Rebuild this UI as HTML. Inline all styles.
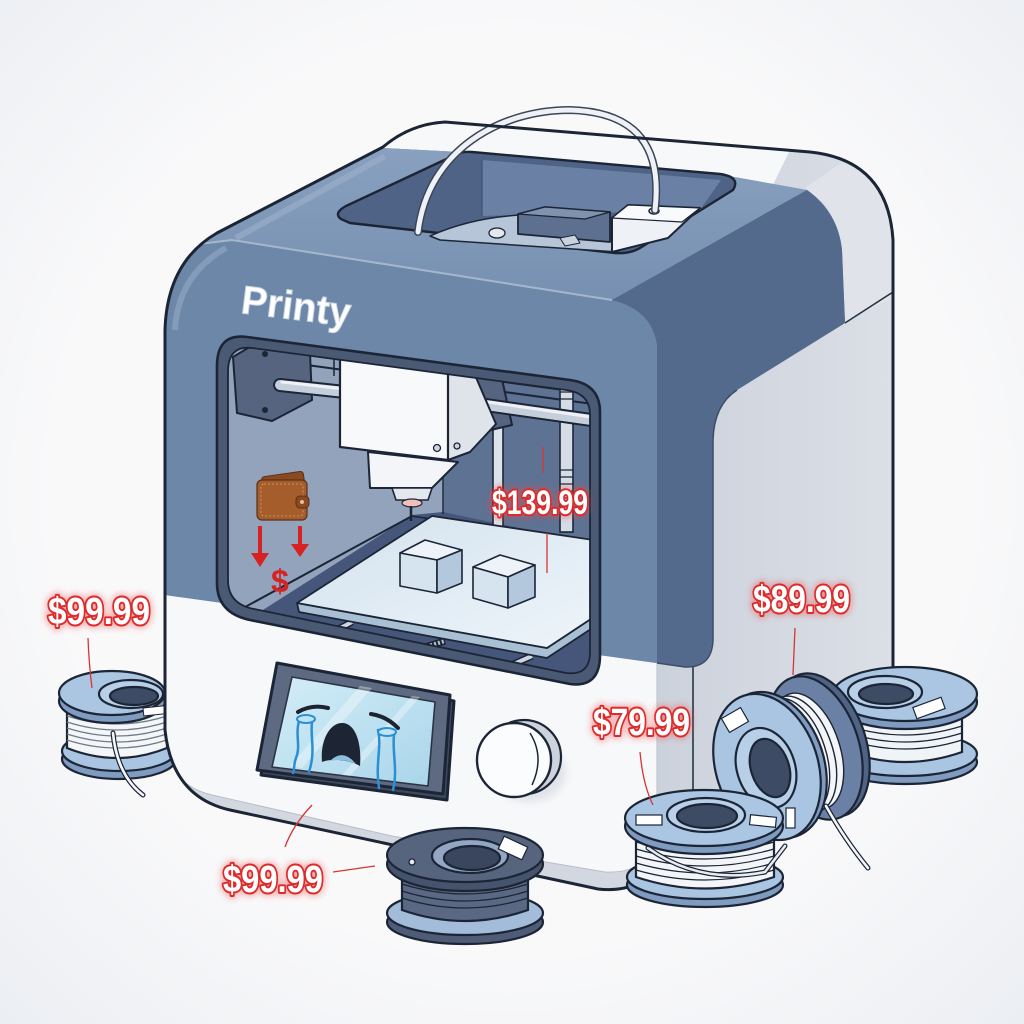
<!DOCTYPE html>
<html><head><meta charset="utf-8">
<style>html,body{margin:0;padding:0;background:#f7f8f9;}svg{display:block}</style></head>
<body>
<svg width="1024" height="1024" viewBox="0 0 1024 1024" xmlns="http://www.w3.org/2000/svg">
<defs>
 <radialGradient id="bg" cx="50%" cy="48%" r="75%"><stop offset="0.6" stop-color="#f9f9fa"/><stop offset="1" stop-color="#eaedf2"/></radialGradient>
 <linearGradient id="sideG" x1="0" y1="0" x2="1" y2="0"><stop offset="0" stop-color="#ccd2dc"/><stop offset="1" stop-color="#dce0e7"/></linearGradient>
 <linearGradient id="bedG" x1="0" y1="0" x2="1" y2="1"><stop offset="0" stop-color="#d3e2ee"/><stop offset="1" stop-color="#eef5fa"/></linearGradient>
 <linearGradient id="scrG" x1="0" y1="0" x2="1" y2="1"><stop offset="0" stop-color="#d3edf7"/><stop offset="1" stop-color="#a9d5ea"/></linearGradient>
 <linearGradient id="topG" x1="0" y1="0" x2="0" y2="1"><stop offset="0" stop-color="#8aa1c0"/><stop offset="1" stop-color="#7790b1"/></linearGradient>
 <filter id="glow" x="-30%" y="-60%" width="160%" height="220%"><feGaussianBlur stdDeviation="3.5"/></filter>
 <filter id="soft" x="-30%" y="-30%" width="160%" height="160%"><feGaussianBlur stdDeviation="4"/></filter>
 <clipPath id="sil"><path d="M165,330 Q167,262 217,233 L383,147 Q410,124 445,122 L810,152 Q888,160 893,240 L893,745 Q892,765 870,775 L645,880 Q625,892 598,889 L230,810 Q172,797 165,730 Z"/></clipPath>
 <clipPath id="win"><path d="M252,348 L566,390 Q590,393 590,415 L590,652 Q590,676 566,673 L254,609 Q228,604 228,580 L228,372 Q228,345 252,348 Z"/></clipPath>
</defs>

<rect width="1024" height="1024" fill="url(#bg)"/>

<!-- Spool A (left, behind body) -->
<g stroke="#1c2536" stroke-width="2.2">
 <ellipse cx="119" cy="759" rx="57" ry="20" fill="#7f9cc0"/>
 <ellipse cx="119" cy="751" rx="57" ry="20" fill="#a9c5e2"/>
 <path d="M67,706 L67,748 Q117,768 167,748 L167,706 Z" fill="#f4f6f8"/>
 <g fill="none" stroke="#6f7b8b" stroke-width="1.3">
  <path d="M67,716 Q117,732 167,716"/><path d="M67,722 Q117,738 167,722"/><path d="M67,728 Q117,744 167,728"/><path d="M67,734 Q117,750 167,734"/><path d="M67,740 Q117,756 167,740"/>
 </g>
 <ellipse cx="112" cy="701" rx="53" ry="22" fill="#7f9cc0"/>
 <ellipse cx="112" cy="693" rx="53" ry="22" fill="#aac6e3"/>
 <ellipse cx="131" cy="694" rx="32" ry="14" fill="#b8cfe8"/>
 <ellipse cx="134" cy="696" rx="24" ry="9" fill="#3e4b64"/>
 <rect x="143" y="708" width="22" height="8" fill="#fff" stroke-width="1" transform="rotate(-6 143 708)"/>
 <path d="M113,733 Q117,775 143,795" fill="none" stroke="#1c2536" stroke-width="5" stroke-linecap="round"/>
 <path d="M113,733 Q117,775 143,795" fill="none" stroke="#f4f6f8" stroke-width="2.6" stroke-linecap="round"/>
</g>

<!-- BODY -->
<g clip-path="url(#sil)">
 <rect x="100" y="100" width="850" height="850" fill="#f7f8fa"/>
 <polygon points="795,140 910,140 910,910 657,910 657,420" fill="url(#sideG)"/>
 <polygon points="805,188 860,150 910,150 910,288 845,322 842,250 826,205" fill="#e0e4ea"/>
 <line x1="893" y1="292" x2="845" y2="323" stroke="#2a3345" stroke-width="1.6"/>
 <line x1="693" y1="660" x2="693" y2="900" stroke="#2a3345" stroke-width="1.6"/>
 <path d="M160,735 Q168,785 212,795 L392,836 L605,872 Q645,874 657,842 L657,910 L150,910 Z" fill="#d2d7e0"/>
 <path d="M160,735 Q168,785 212,795 L392,836 L605,872 Q645,874 657,842" fill="none" stroke="#b8bfca" stroke-width="1"/>
 <line x1="657" y1="660" x2="657" y2="845" stroke="#c2c8d2" stroke-width="1.2"/>
 <path d="M150,593 L150,140 L383,140 L383,148 L460,152 L723,175 L807,190 Q838,212 842,250 L845,323 L737,390 Q714,405 713,440 L713,640 Q712,668 685,667 Z" fill="#6d87a9"/>
 <polygon points="150,140 383,140 383,148 460,152 723,175 807,190 612,300 232,240 150,245" fill="url(#topG)"/>
 <path d="M150,250 L232,240 L612,300" fill="none" stroke="#a5b7cd" stroke-width="2"/>
 <path d="M612,300 L807,190 Q838,212 842,250 L845,323 L737,390 Q714,405 713,440 L713,640 Q712,668 685,667 L657,663 L657,345 Q652,310 612,300 Z" fill="#546a8c"/>
 <path d="M713,440 L713,640 Q712,668 685,667 L657,663" fill="none" stroke="#3d4d68" stroke-width="1.5"/>
 <path d="M737,390 Q714,405 713,440" fill="none" stroke="#3d4d68" stroke-width="1.5"/>
 <path d="M175,330 Q178,275 226,248" fill="none" stroke="#8ea4c1" stroke-width="6" opacity="0.7"/>
 <path d="M236,238 L385,156" fill="none" stroke="#9cb0ca" stroke-width="6" opacity="0.6"/>
</g>

<!-- top opening -->
<g stroke="#1c2536" stroke-width="2.4" stroke-linejoin="round">
 <path d="M341,219 Q333,213 346,206 L455,155 Q462,151 472,152 L720,174 Q741,177 733,190 L640,248 Q630,254 615,253 L350,223 Z" fill="#4f6387"/>
 <polygon points="482,160 721,180 700,210 482,216" fill="#6a81a5" stroke="none"/>
 <line x1="482" y1="160" x2="482" y2="216" stroke="#3f5273" stroke-width="1.2"/>
 <path d="M430,236 Q470,218 520,215 L600,220 L618,252 L440,240 Z" fill="#b7c5d8" stroke-width="1.5"/>
 <polygon points="518,214 545,207 610,212 610,242 518,234" fill="#5d7090" stroke-width="1.8"/>
 <polygon points="518,214 545,207 610,212 585,219" fill="#7f92ae" stroke-width="1.2"/>
 <polygon points="560,238 575,235 580,243 565,246" fill="#c9d3e0" stroke-width="1"/>
 <polygon points="612,218 628,205 700,208 668,238 612,252" fill="#eef1f5" stroke-width="2"/>
 <polygon points="612,218 628,205 700,208 682,222" fill="#f9fafc" stroke-width="1.2"/>
 <ellipse cx="497" cy="233" rx="8" ry="5" fill="#e4e9ef" stroke-width="1.3"/>
 <ellipse cx="654" cy="211" rx="5" ry="3" fill="#cfd6e0" stroke-width="1.5"/>
</g>
<path d="M418,232 C428,150 500,110 570,110 C640,112 662,150 655,210" fill="none" stroke="#3c4658" stroke-width="8" stroke-linecap="round"/>
<path d="M418,232 C428,150 500,110 570,110 C640,112 662,150 655,210" fill="none" stroke="#eef1f5" stroke-width="5" stroke-linecap="round"/>

<!-- Printy -->
<text x="240" y="313" font-family="Liberation Sans, DejaVu Sans, sans-serif" font-weight="bold" font-size="40" fill="#ffffff" stroke="#c9d3e0" stroke-width="1" textLength="110" lengthAdjust="spacingAndGlyphs" transform="rotate(7 240 313)">Printy</text>

<!-- window -->
<path d="M247,337 L570,380 Q600,384 600,412 L600,655 Q600,688 570,684 L250,620 Q217,613 217,583 L217,366 Q217,333 247,337 Z" fill="#4a5974" stroke="#1c2536" stroke-width="2.6"/>
<g clip-path="url(#win)">
 <rect x="220" y="340" width="380" height="350" fill="#93a3bb"/>
 <polygon points="443,355 600,378 600,548 443,515" fill="#5e7293"/>
 <polygon points="200,650 412,515 443,512 600,545 600,700 200,700" fill="#46567a"/>
 <line x1="236" y1="612" x2="412" y2="516" stroke="#1c2536" stroke-width="2"/>
 <line x1="412" y1="516" x2="600" y2="545" stroke="#1c2536" stroke-width="1.6"/>
 <line x1="443" y1="460" x2="443" y2="514" stroke="#1c2536" stroke-width="1.4"/>
 <line x1="285" y1="352" x2="600" y2="395" stroke="#1c2536" stroke-width="2"/>
 <line x1="285" y1="362" x2="600" y2="405" stroke="#1c2536" stroke-width="2"/>
 <line x1="310" y1="350" x2="310" y2="372" stroke="#1c2536" stroke-width="1.5"/>
 <line x1="334" y1="352" x2="334" y2="376" stroke="#1c2536" stroke-width="1.5"/>
 <rect x="493" y="362" width="10" height="165" fill="#dde3eb" stroke="#1c2536" stroke-width="1.6"/>
 <rect x="560" y="372" width="13" height="160" fill="#d5dce6" stroke="#1c2536" stroke-width="1.6"/>
 <g stroke="#1c2536" stroke-width="1.2"><line x1="560" y1="385" x2="573" y2="385"/><line x1="560" y1="392" x2="573" y2="392"/><line x1="560" y1="399" x2="573" y2="399"/><line x1="560" y1="470" x2="573" y2="470"/><line x1="560" y1="477" x2="573" y2="477"/><line x1="560" y1="484" x2="573" y2="484"/><line x1="560" y1="491" x2="573" y2="491"/><line x1="560" y1="498" x2="573" y2="498"/></g>
 <polygon points="233,357 253,345 310,353 312,400 272,421 237,413" fill="#56647f" stroke="#1c2536" stroke-width="2" stroke-linejoin="round"/>
 <circle cx="265" cy="354" r="3" fill="#1c2536"/><circle cx="265" cy="410" r="3" fill="#1c2536"/>
 <line x1="280" y1="385" x2="345" y2="392" stroke="#1c2536" stroke-width="14" stroke-linecap="round"/>
 <line x1="280" y1="385" x2="345" y2="392" stroke="#c5cfdc" stroke-width="10" stroke-linecap="round"/>
 <line x1="282" y1="382" x2="345" y2="389" stroke="#eef2f6" stroke-width="3" stroke-linecap="round"/>
 <polygon points="468,374 478,367 500,370 512,425 478,433 468,420" fill="#56647f" stroke="#1c2536" stroke-width="2" stroke-linejoin="round"/>
 <line x1="486" y1="405" x2="605" y2="422" stroke="#1c2536" stroke-width="14" stroke-linecap="round"/>
 <line x1="486" y1="405" x2="605" y2="422" stroke="#c5cfdc" stroke-width="10" stroke-linecap="round"/>
 <line x1="488" y1="402" x2="605" y2="419" stroke="#eef2f6" stroke-width="3" stroke-linecap="round"/>
 <polygon points="448,364 472,368 496,424 470,452 448,460" fill="#dfe4eb" stroke="#1c2536" stroke-width="2" stroke-linejoin="round"/>
 <polygon points="340,352 448,364 448,460 340,447" fill="#f8f9fb" stroke="#1c2536" stroke-width="2.2" stroke-linejoin="round"/>
 <circle cx="437" cy="448" r="3.5" fill="#cfd5de" stroke="#1c2536" stroke-width="1.3"/>
 <circle cx="457" cy="446" r="3" fill="#cfd5de" stroke="#1c2536" stroke-width="1.3"/>
 <polygon points="368,452 458,462 432,488 370,488" fill="#f3f5f8" stroke="#1c2536" stroke-width="2" stroke-linejoin="round"/>
 <polygon points="392,488 432,488 428,500 396,500" fill="#e4e8ee" stroke="#1c2536" stroke-width="1.6"/>
 <ellipse cx="412" cy="503" rx="10" ry="4" fill="#f2c0bb" stroke="#1c2536" stroke-width="1.2"/>
 <line x1="411" y1="506" x2="411" y2="521" stroke="#1c2536" stroke-width="2.5"/>
 <line x1="325" y1="636" x2="352" y2="622" stroke="#1c2536" stroke-width="7"/>
 <line x1="325" y1="636" x2="352" y2="622" stroke="#cfd7e2" stroke-width="4"/>
 <line x1="500" y1="670" x2="532" y2="656" stroke="#1c2536" stroke-width="7"/>
 <line x1="500" y1="670" x2="532" y2="656" stroke="#cfd7e2" stroke-width="4"/>
 <line x1="415" y1="650" x2="445" y2="641" stroke="#1c2536" stroke-width="7"/>
 <line x1="415" y1="650" x2="445" y2="641" stroke="#b9c3d0" stroke-width="4" stroke-dasharray="2 2"/>
 <polygon points="297,603 547,648 600,613 600,623 547,658 299,612" fill="#a9bfd4" stroke="#1c2536" stroke-width="1.8" stroke-linejoin="round"/>
 <polygon points="297,603 432,516 600,541 600,613 547,648" fill="url(#bedG)" stroke="#1c2536" stroke-width="1.8" stroke-linejoin="round"/>
 <g stroke="#1c2536" stroke-width="1.6" stroke-linejoin="round">
  <polygon points="400,553 425,540 462,550 437,560" fill="#edf3f9"/>
  <polygon points="400,553 437,560 437,593 400,586" fill="#d6e4f0"/>
  <polygon points="437,560 462,550 462,583 437,593" fill="#b3c8dd"/>
  <polygon points="473,567 500,555 535,565 508,577" fill="#edf3f9"/>
  <polygon points="473,567 508,577 508,608 473,598" fill="#d6e4f0"/>
  <polygon points="508,577 535,565 535,597 508,608" fill="#b3c8dd"/>
 </g>
 <rect x="262" y="474" width="42" height="12" rx="3" fill="#8a4a22" stroke="#5b3015" stroke-width="1" transform="rotate(-8 283 480)"/>
 <rect x="257" y="480" width="50" height="40" rx="5" fill="#a65d2c" stroke="#5b3015" stroke-width="1.2"/>
 <rect x="261" y="484" width="42" height="32" rx="3" fill="none" stroke="#d9a070" stroke-width="0.8" stroke-dasharray="2 2"/>
 <rect x="296" y="496" width="13" height="12" rx="4" fill="#8a4a22" stroke="#5b3015" stroke-width="1"/>
 <circle cx="302" cy="502" r="2" fill="#e8c090"/>
 <line x1="260" y1="526" x2="260" y2="556" stroke="#d62222" stroke-width="4"/>
 <polygon points="251,553 269,553 260,567" fill="#d62222"/>
 <line x1="300" y1="526" x2="300" y2="546" stroke="#d62222" stroke-width="4"/>
 <polygon points="291,544 309,544 300,557" fill="#d62222"/>
 <text x="271" y="592" font-family="Liberation Sans, sans-serif" font-weight="bold" font-size="32" fill="#d62222">$</text>
</g>
<path d="M252,348 L566,390 Q590,393 590,415 L590,652 Q590,676 566,673 L254,609 Q228,604 228,580 L228,372 Q228,345 252,348 Z" fill="none" stroke="#1c2536" stroke-width="1.8"/>

<!-- screen -->
<polygon points="281,668 454,701 447,800 261,775" fill="#3f4a5e" stroke="#1c2536" stroke-width="3" stroke-linejoin="round"/>
<polygon points="277,663 450,695 443,794 257,770" fill="#5d6a82" stroke="#1c2536" stroke-width="3" stroke-linejoin="round"/>
<polygon points="292,677 435,702 428,786 272,767" fill="url(#scrG)" stroke="#2b3445" stroke-width="1.6" stroke-linejoin="round"/>
<polygon points="360,686 372,688 302,768 290,766" fill="#ffffff" opacity="0.35"/>
<polygon points="412,696 420,697 350,776 342,775" fill="#ffffff" opacity="0.35"/>
<g fill="none" stroke-linecap="round">
 <path d="M298,712 Q312,704 328,708" stroke="#1c2331" stroke-width="4"/>
 <path d="M371,714 Q386,716 398,728" stroke="#1c2331" stroke-width="4"/>
 <path d="M299,721 C295,735 301,746 296,758 C293,766 295,770 293,773" stroke="#2a8fd4" stroke-width="2.5"/>
 <path d="M312,722 C310,738 316,750 309,772" stroke="#2a8fd4" stroke-width="2.5"/>
 <path d="M378,730 C382,746 375,765 379,788" stroke="#2a8fd4" stroke-width="2.5"/>
 <path d="M394,735 C392,752 398,770 393,790" stroke="#2a8fd4" stroke-width="2.5"/>
</g>
<ellipse cx="306" cy="719" rx="9" ry="4" fill="#bfe4f4" stroke="#2a8fd4" stroke-width="2"/>
<ellipse cx="387" cy="732" rx="9" ry="4" fill="#bfe4f4" stroke="#2a8fd4" stroke-width="2"/>
<path d="M322,762 C320,740 330,723 342,723 C355,723 362,742 360,766 C350,760 332,758 322,762 Z" fill="#1d2433"/>
<path d="M330,761 Q343,748 356,764 Q343,758 330,761 Z" fill="#8cc0df"/>

<!-- knob -->
<ellipse cx="530" cy="772" rx="36" ry="30" fill="#d6dae1" opacity="0.7" filter="url(#soft)"/>
<circle cx="524" cy="757" r="37" fill="#cdd3dc" stroke="#1c2536" stroke-width="2.2"/>
<circle cx="514" cy="760" r="37" fill="#fbfcfd" stroke="#1c2536" stroke-width="2.4"/>
<path d="M530,733 Q545,757 532,785" fill="none" stroke="#1c2536" stroke-width="1.5"/>

<!-- silhouette outline -->
<path d="M165,330 Q167,262 217,233 L383,147 Q410,124 445,122 L810,152 Q888,160 893,240 L893,745 Q892,765 870,775 L645,880 Q625,892 598,889 L230,810 Q172,797 165,730 Z" fill="none" stroke="#1c2536" stroke-width="3"/>

<!-- Spool E -->
<g stroke="#1c2536" stroke-width="2.2">
 <ellipse cx="905" cy="762" rx="72" ry="22" fill="#7f9cc0"/>
 <ellipse cx="905" cy="754" rx="72" ry="22" fill="#a9c5e2"/>
 <path d="M848,702 L848,752 Q905,772 962,752 L962,702 Z" fill="#f1f4f7"/>
 <g fill="none" stroke="#1c2536" stroke-width="1.2">
  <path d="M848,712 Q905,730 962,712"/><path d="M848,719 Q905,737 962,719"/><path d="M848,726 Q905,744 962,726"/><path d="M848,733 Q905,751 962,733"/><path d="M848,740 Q905,758 962,740"/>
 </g>
 <ellipse cx="905" cy="702" rx="72" ry="27" fill="#7f9cc0"/>
 <ellipse cx="905" cy="694" rx="72" ry="27" fill="#aac6e3"/>
 <ellipse cx="885" cy="692" rx="37" ry="16" fill="#b8cfe8"/>
 <ellipse cx="886" cy="694" rx="27" ry="10" fill="#3e4b64"/>
 <rect x="914" y="702" width="30" height="12" fill="#fff" stroke-width="1.2" transform="rotate(-20 929 708)"/>
</g>

<!-- Spool D (standing) -->
<g stroke="#1c2536" stroke-width="2.2">
 <ellipse cx="822" cy="745" rx="44" ry="74" fill="#4f6384" transform="rotate(-18 822 745)"/>
 <ellipse cx="815" cy="748" rx="44" ry="74" fill="#6a80a4" transform="rotate(-18 815 748)"/>
 <g fill="#f3f5f8" stroke-width="1.4">
  <ellipse cx="808" cy="751" rx="32" ry="60" transform="rotate(-18 808 751)"/>
  <ellipse cx="801" cy="754" rx="32" ry="60" transform="rotate(-18 801 754)"/>
  <ellipse cx="794" cy="756" rx="32" ry="60" transform="rotate(-18 794 756)"/>
  <ellipse cx="787" cy="759" rx="32" ry="60" transform="rotate(-18 787 759)"/>
  <ellipse cx="780" cy="762" rx="32" ry="60" transform="rotate(-18 780 762)"/>
 </g>
 <ellipse cx="773" cy="765" rx="51" ry="75" fill="#7f9cc0" transform="rotate(-18 773 765)"/>
 <ellipse cx="767" cy="767" rx="51" ry="75" fill="#a9c5e2" transform="rotate(-18 767 767)"/>
 <ellipse cx="766" cy="768" rx="29" ry="41" fill="#b8cfe8" transform="rotate(-18 766 768)"/>
 <ellipse cx="770" cy="768" rx="19" ry="30" fill="#3e4b64" transform="rotate(-18 770 768)"/>
 <rect x="724" y="712" width="22" height="16" fill="#fff" stroke-width="1.2" transform="rotate(-30 735 720)"/>
 <rect x="786" y="808" width="9" height="20" fill="#fff" stroke-width="1.2"/>
 <path d="M826,806 Q845,840 868,868" fill="none" stroke="#1c2536" stroke-width="5" stroke-linecap="round"/>
 <path d="M826,806 Q845,840 868,868" fill="none" stroke="#f3f5f8" stroke-width="2.6" stroke-linecap="round"/>
</g>

<!-- Spool C -->
<g stroke="#1c2536" stroke-width="2.2">
 <ellipse cx="705" cy="885" rx="78" ry="22" fill="#7f9cc0"/>
 <ellipse cx="705" cy="877" rx="78" ry="22" fill="#a9c5e2"/>
 <path d="M636,830 L636,877 Q705,900 774,877 L774,830 Z" fill="#f3f5f8"/>
 <g fill="none" stroke="#1c2536" stroke-width="1.2">
  <path d="M636,842 Q705,862 774,842"/><path d="M636,849 Q705,869 774,849"/><path d="M636,856 Q705,876 774,856"/><path d="M636,863 Q705,883 774,863"/><path d="M636,870 Q705,890 774,870"/>
 </g>
 <path d="M648,848 Q700,885 765,872 L785,846" fill="none" stroke="#1c2536" stroke-width="5" stroke-linecap="round"/>
 <path d="M648,848 Q700,885 765,872 L785,846" fill="none" stroke="#e9edf2" stroke-width="2.6" stroke-linecap="round"/>
 <ellipse cx="704" cy="826" rx="79" ry="28" fill="#7f9cc0"/>
 <ellipse cx="704" cy="818" rx="79" ry="28" fill="#aac6e3"/>
 <ellipse cx="706" cy="815" rx="39" ry="17" fill="#b9d0e8"/>
 <ellipse cx="707" cy="816" rx="30" ry="12" fill="#3e4b64"/>
 <rect x="636" y="815" width="26" height="10" fill="#fff" stroke-width="1.2"/>
 <rect x="750" y="816" width="26" height="10" fill="#fff" stroke-width="1.2" transform="rotate(6 763 821)"/>
</g>

<!-- Spool B -->
<g stroke="#1c2536" stroke-width="2.2">
 <ellipse cx="465" cy="922" rx="78" ry="22" fill="#4e5c77"/>
 <ellipse cx="465" cy="913" rx="78" ry="22" fill="#a2bcda"/>
 <path d="M402,858 L402,910 Q465,932 528,910 L528,858 Z" fill="#5b6883"/>
 <g fill="none" stroke="#1c2536" stroke-width="1.3">
  <path d="M402,870 Q465,890 528,870"/><path d="M402,877 Q465,897 528,877"/><path d="M402,884 Q465,904 528,884"/><path d="M402,891 Q465,911 528,891"/><path d="M402,898 Q465,918 528,898"/>
 </g>
 <ellipse cx="465" cy="864" rx="78" ry="27" fill="#46536d"/>
 <ellipse cx="465" cy="855" rx="78" ry="27" fill="#56647e"/>
 <ellipse cx="470" cy="856" rx="38" ry="17" fill="#93a7c4"/>
 <ellipse cx="472" cy="858" rx="28" ry="12" fill="#3a465e"/>
 <rect x="500" y="841" width="26" height="14" fill="#fff" stroke-width="1.2" transform="rotate(25 513 848)"/>
 <circle cx="412" cy="862" r="3" fill="#e6ebf1" stroke-width="1.3"/>
</g>

<!-- leader lines -->
<g fill="none" stroke="#d83434" stroke-width="1.3">
 <path d="M88,638 Q89,665 92,688"/>
 <path d="M312,805 Q293,825 285,847"/>
 <path d="M333,872 L375,866"/>
 <path d="M543,447 L543,473"/>
 <path d="M547,533 L547,573"/>
 <path d="M640,752 Q643,785 653,805"/>
 <path d="M795,628 L793,675"/>
</g>

<!-- price labels -->
<g font-family="Liberation Sans Narrow, Liberation Sans, sans-serif" font-weight="bold" font-size="38" lengthAdjust="spacingAndGlyphs">
 <g fill="none" stroke="#ee4848" stroke-width="7" opacity="0.45" filter="url(#glow)">
  <text x="48" y="624" textLength="102" lengthAdjust="spacingAndGlyphs">$99.99</text>
  <text x="223" y="892" textLength="100" lengthAdjust="spacingAndGlyphs">$99.99</text>
  <text x="492" y="514" font-size="34" textLength="96" lengthAdjust="spacingAndGlyphs">$139.99</text>
  <text x="593" y="735" textLength="97" lengthAdjust="spacingAndGlyphs">$79.99</text>
  <text x="753" y="612" textLength="97" lengthAdjust="spacingAndGlyphs">$89.99</text>
 </g>
 <g fill="#ffffff" stroke="#dd2b2b" stroke-width="4" paint-order="stroke" stroke-linejoin="round">
  <text x="48" y="624" textLength="102" lengthAdjust="spacingAndGlyphs">$99.99</text>
  <text x="223" y="892" textLength="100" lengthAdjust="spacingAndGlyphs">$99.99</text>
  <text x="492" y="514" font-size="34" textLength="96" lengthAdjust="spacingAndGlyphs">$139.99</text>
  <text x="593" y="735" textLength="97" lengthAdjust="spacingAndGlyphs">$79.99</text>
  <text x="753" y="612" textLength="97" lengthAdjust="spacingAndGlyphs">$89.99</text>
 </g>
</g>
</svg>
</body></html>
